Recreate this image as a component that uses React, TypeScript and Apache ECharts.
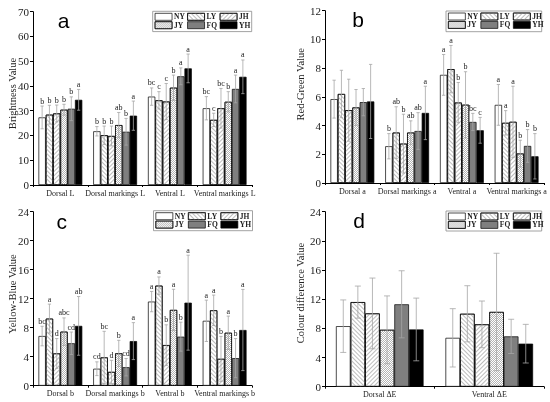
import React, { useEffect, useRef } from 'react';
import * as echarts from 'echarts';

const seriesNames = ['NY', 'LY', 'JH', 'JY', 'FQ', 'YH'];

// Panel a: Brightness (L)
const brightnessCats = ['Dorsal L', 'Dorsal markings L', 'Ventral L', 'Ventral markings L'];
const brightnessMean = [
  [27.3, 21.7, 35.7, 31.0],
  [28.4, 20.1, 34.2, 26.3],
  [28.9, 19.8, 33.7, 31.0],
  [30.4, 24.2, 39.3, 33.6],
  [30.8, 21.5, 43.9, 38.8],
  [34.4, 28.0, 47.1, 43.7],
];
const brightnessSd = [
  [4.6, 1.9, 3.5, 4.7],
  [3.8, 3.7, 3.5, 2.7],
  [3.4, 4.0, 7.3, 8.0],
  [2.2, 5.1, 5.1, 4.1],
  [4.8, 5.4, 3.4, 5.6],
  [4.2, 5.9, 5.8, 6.8],
];
const brightnessSig = [
  ['b', 'b', 'bc', 'bc'],
  ['b', 'b', 'c', 'c'],
  ['b', 'b', 'c', 'bc'],
  ['b', 'ab', 'b', 'b'],
  ['b', 'b', 'a', 'a'],
  ['a', 'a', 'a', 'a'],
];

// Panel b: Red-Green (a)
const redGreenCats = ['Dorsal a', 'Dorsal markings a', 'Ventral a', 'Ventral markings a'];
const redGreenMean = [
  [5.84, 2.56, 7.53, 5.44],
  [6.2, 3.51, 7.93, 4.19],
  [5.07, 2.74, 5.6, 4.26],
  [5.26, 3.51, 5.45, 2.05],
  [5.63, 3.62, 4.25, 2.58],
  [5.68, 4.88, 3.67, 1.86],
];
const redGreenSd = [
  [1.32, 0.88, 1.42, 1.42],
  [1.65, 1.8, 1.65, 0.85],
  [2.16, 2.05, 1.4, 2.48],
  [1.25, 0.82, 2.3, 0.93],
  [0.95, 1.28, 0.6, 1.14],
  [2.58, 1.86, 0.9, 1.58],
];
const redGreenSig = [
  ['', 'b', 'a', 'a'],
  ['', 'ab', 'a', 'a'],
  ['', 'b', 'b', 'a'],
  ['', 'ab', 'b', 'b'],
  ['', 'ab', 'bc', 'b'],
  ['', 'a', 'c', 'b'],
];

// Panel c: Yellow-Blue (b)
const yellowBlueCats = ['Dorsal b', 'Dorsal markings b', 'Ventral b', 'Ventral markings b'];
const yellowBlueMean = [
  [6.85, 2.34, 11.6, 8.95],
  [9.25, 3.9, 13.8, 10.4],
  [4.45, 1.9, 5.6, 3.7],
  [7.45, 4.46, 10.45, 7.3],
  [5.85, 2.55, 6.76, 3.8],
  [8.25, 6.15, 11.45, 7.68],
];
const yellowBlueSd = [
  [1.35, 0.95, 1.4, 2.85],
  [2.0, 3.6, 1.2, 2.1],
  [2.05, 1.6, 2.8, 3.1],
  [1.9, 1.8, 2.85, 2.3],
  [1.55, 1.2, 2.0, 2.7],
  [4.05, 2.55, 6.55, 5.6],
];
const yellowBlueSig = [
  ['bc', 'cd', 'a', 'a'],
  ['a', 'bc', 'a', 'a'],
  ['d', 'd', 'b', 'b'],
  ['abc', 'b', 'a', 'a'],
  ['cd', 'cd', 'b', 'b'],
  ['ab', 'a', 'a', 'a'],
];

// Panel d: Colour difference (ΔE)
const colourDiffCats = ['Dorsal ΔE', 'Ventral ΔE'];
const colourDiffMean = [
  [8.3, 6.7],
  [11.6, 10.0],
  [10.05, 8.55],
  [7.8, 10.25],
  [11.3, 6.9],
  [7.85, 5.9],
];
const colourDiffSd = [
  [3.6, 4.0],
  [2.2, 3.85],
  [4.85, 3.2],
  [4.65, 8.05],
  [4.6, 2.35],
  [4.3, 2.65],
];
const colourDiffSig = [
  ['', ''],
  ['', ''],
  ['', ''],
  ['', ''],
  ['', ''],
  ['', ''],
];

const yNames = ['Brightness Value', 'Red-Green Value', 'Yellow-Blue Value', 'Colour difference Value'];
const yMax = [70, 12, 24, 24];
const yStep = [10, 2, 4, 4];
const panelLetters = ['a', 'b', 'c', 'd'];

const SERIF = 'Liberation Serif';
const SANS = 'Liberation Sans';

const fills = ['#ffffff', '#ffffff', '#ffffff', '#ffffff', '#7f7f7f', '#000000'];
const decals: any[] = [
  null,
  { symbol: 'rect', symbolSize: 1, color: '#bdbdbd', dashArrayX: [1, 0], dashArrayY: [1, 2], rotation: Math.PI / 4 },
  { symbol: 'rect', symbolSize: 1, color: '#bdbdbd', dashArrayX: [1, 0], dashArrayY: [1, 2], rotation: -Math.PI / 4 },
  { symbol: 'rect', symbolSize: 1, color: '#b4b4b4', dashArrayX: [[1, 1], [0, 1, 1, 0]], dashArrayY: [1, 0] },
  null,
  null,
];

const grids = [
  { left: 33, top: 11.7, width: 219, height: 173.3 },
  { left: 325, top: 10.7, width: 219, height: 172.3 },
  { left: 33, top: 211.7, width: 219, height: 174 },
  { left: 325, top: 211.7, width: 219, height: 175 },
];
const legendBoxes = [
  { x: 152.7, y: 11.3, w: 99, h: 20.3 },
  { x: 446, y: 11, w: 95.7, h: 20.7 },
  { x: 153.5, y: 210.7, w: 99, h: 20 },
  { x: 446, y: 211, w: 95.7, h: 20 },
];
const yNamePos = [
  [12, 93.5],
  [300.5, 84.3],
  [12, 294],
  [300.5, 293],
];
const letterPos = [
  [63.7, 20],
  [358, 19.4],
  [61.7, 221],
  [359, 220],
];

const LABEL_COLOR = '#1a1a1a';
const ERR_COLOR = '#a6a6a6';

function buildPanel(idx: number, cats: string[], means: number[][], sds: number[][], sigs: string[][]) {
  const bars = seriesNames.map((name, si) => {
    const itemStyle: any = { color: fills[si], borderColor: '#000', borderWidth: 0.7 };
    if (decals[si]) itemStyle.decal = decals[si];
    return {
      type: 'bar',
      name,
      xAxisIndex: idx,
      yAxisIndex: idx,
      data: means[si],
      barGap: '0%',
      barCategoryGap: '20%',
      itemStyle,
      emphasis: { disabled: true },
      z: 2,
    };
  });
  const errData: number[][] = [];
  const labels: string[] = [];
  for (let si = 0; si < seriesNames.length; si++) {
    for (let ci = 0; ci < cats.length; ci++) {
      errData.push([ci, si, means[si][ci], sds[si][ci]]);
      labels.push(sigs[si][ci]);
    }
  }
  const custom = {
    type: 'custom',
    xAxisIndex: idx,
    yAxisIndex: idx,
    z: 5,
    silent: true,
    colorBy: 'series',
    itemStyle: { color: LABEL_COLOR },
    data: errData,
    encode: { x: 0, y: 2 },
    renderItem: (params: any, api: any) => {
      const ci = api.value(0);
      const si = api.value(1);
      const m = api.value(2);
      const sd = api.value(3);
      const base = api.coord([ci, 0]);
      const bw = api.size([1, 0])[0];
      const gw = bw * 0.8;
      const w = gw / 6;
      const x = base[0] - gw / 2 + w * (si + 0.5);
      const yTop = api.coord([ci, m + sd])[1];
      const yBot = api.coord([ci, Math.max(m - sd, 0)])[1];
      const c = Math.min(w * 0.45, 6) / 2;
      const ls = { stroke: ERR_COLOR, lineWidth: 0.8, fill: 'none' };
      const children: any[] = [
        { type: 'line', shape: { x1: x, y1: yTop, x2: x, y2: yBot }, style: ls },
        { type: 'line', shape: { x1: x - c, y1: yTop, x2: x + c, y2: yTop }, style: ls },
        { type: 'line', shape: { x1: x - c, y1: yBot, x2: x + c, y2: yBot }, style: ls },
      ];
      const t = labels[params.dataIndex];
      if (t) {
        children.push({
          type: 'text',
          x,
          y: yTop - 1,
          style: {
            text: t,
            fill: LABEL_COLOR,
            textFill: LABEL_COLOR,
            font: '8px "Liberation Serif"',
            textAlign: 'center',
            textVerticalAlign: 'bottom',
          },
        });
      }
      return { type: 'group', children };
    },
  };
  return [...bars, custom];
}

const legendCols = [
  ['NY', 'JY'],
  ['LY', 'FQ'],
  ['JH', 'YH'],
];
const legendColOffsets = [2, 34.5, 67];

export default function App() {
  const ref = useRef<HTMLDivElement>(null);
  useEffect(() => {
    if (!ref.current) return;
    const chart = echarts.init(ref.current, undefined, { renderer: 'svg' });
    const catsList = [brightnessCats, redGreenCats, yellowBlueCats, colourDiffCats];
    const meanList = [brightnessMean, redGreenMean, yellowBlueMean, colourDiffMean];
    const sdList = [brightnessSd, redGreenSd, yellowBlueSd, colourDiffSd];
    const sigList = [brightnessSig, redGreenSig, yellowBlueSig, colourDiffSig];

    const series: any[] = [];
    for (let p = 0; p < 4; p++) {
      series.push(...buildPanel(p, catsList[p], meanList[p], sdList[p], sigList[p]));
    }

    const legends: any[] = [];
    for (let p = 0; p < 4; p++) {
      legendCols.forEach((col, k) => {
        legends.push({
          data: col,
          orient: 'vertical',
          left: legendBoxes[p].x + legendColOffsets[k],
          top: legendBoxes[p].y + 1.5,
          padding: 0,
          itemGap: 0.4,
          itemWidth: 17,
          itemHeight: 7,
          icon: 'rect',
          selectedMode: false,
          itemStyle: { borderColor: '#000', borderWidth: 0.7 },
          textStyle: {
            fontFamily: SERIF,
            fontSize: 7.5,
            fontWeight: 'bold',
            color: '#222',
            lineHeight: 8,
            padding: [0, 0, 0, -3],
          },
        });
      });
    }

    const graphic: any[] = [];
    for (let p = 0; p < 4; p++) {
      const b = legendBoxes[p];
      graphic.push({
        type: 'rect',
        shape: { x: b.x, y: b.y, width: b.w, height: b.h },
        style: { fill: 'none', stroke: '#8a8a8a', lineWidth: 0.8 },
        silent: true,
      });
      graphic.push({
        type: 'text',
        x: yNamePos[p][0],
        y: yNamePos[p][1],
        rotation: Math.PI / 2,
        style: {
          text: yNames[p],
          textAlign: 'center',
          textVerticalAlign: 'middle',
          fontFamily: SERIF,
          fontSize: 10.5,
          fill: '#222',
        },
        silent: true,
      });
      graphic.push({
        type: 'text',
        x: letterPos[p][0],
        y: letterPos[p][1],
        style: {
          text: panelLetters[p],
          textAlign: 'center',
          textVerticalAlign: 'middle',
          fontFamily: SANS,
          fontSize: 21,
          fill: '#000',
        },
        silent: true,
      });
    }

    const option: any = {
      animation: false,
      backgroundColor: 'transparent',
      grid: grids.map((g) => ({ ...g, containLabel: false })),
      xAxis: catsList.map((cats, p) => ({
        type: 'category',
        gridIndex: p,
        data: cats,
        axisLine: { show: true, lineStyle: { color: '#000', width: 1 } },
        axisTick: { show: true, length: 2, lineStyle: { color: '#000' } },
        axisLabel: { interval: 0, fontFamily: SERIF, fontSize: 8, color: '#222', margin: 4 },
        splitLine: { show: false },
      })),
      yAxis: yMax.map((mx, p) => ({
        type: 'value',
        gridIndex: p,
        min: 0,
        max: mx,
        interval: yStep[p],
        axisLine: { show: true, lineStyle: { color: '#000', width: 1 } },
        axisTick: { show: true, length: 3, lineStyle: { color: '#000' } },
        axisLabel: { fontFamily: SERIF, fontSize: 11, color: '#222', margin: 4 },
        splitLine: { show: false },
      })),
      legend: legends,
      graphic,
      series,
    };
    chart.setOption(option);
    return () => chart.dispose();
  }, []);
  return (
    <div
      ref={ref}
      style={{ position: 'fixed', left: 0, top: 0, width: 550, height: 402, willChange: 'transform' }}
    />
  );
}
